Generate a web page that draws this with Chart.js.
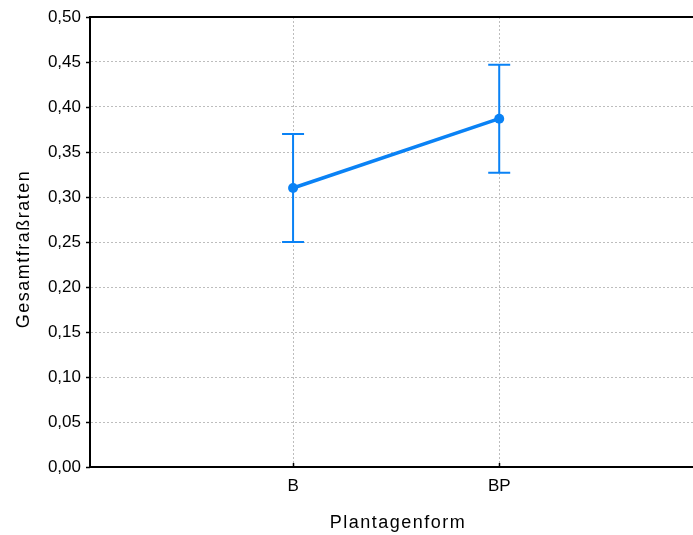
<!DOCTYPE html>
<html>
<head>
<meta charset="utf-8">
<script src="https://cdn.jsdelivr.net/npm/chart.js@4"></script>
<style>
  html, body { margin: 0; padding: 0; background: #ffffff; overflow: hidden; }
  #wrap { width: 693px; height: 535px; overflow: hidden; }
</style>
</head>
<body>
<div id="wrap"><canvas id="grafico" width="698" height="535"></canvas></div>
<script>
// ---- data ----
const categorias = ['B', 'BP'];
const medias = [0.31, 0.387];
const erros = [0.06, 0.06];
const yTicks = [0, 0.05, 0.10, 0.15, 0.20, 0.25, 0.30, 0.35, 0.40, 0.45, 0.50];
const tituloX = 'Plantagenform';
const tituloY = 'Gesamtfraßraten';

const azul = '#0a82f5';
const fonte = "'Liberation Sans', Arial, sans-serif";

// error bars, top border, black tick marks and spaced axis titles
const extras = {
  id: 'extras',
  afterDatasetsDraw(chart) {
    const { ctx, chartArea, scales } = chart;
    const x = scales.x, y = scales.y;
    ctx.save();
    // error bars
    ctx.strokeStyle = azul;
    ctx.lineWidth = 2;
    medias.forEach((m, i) => {
      const px = x.getPixelForValue(i + 1);
      const top = y.getPixelForValue(m + erros[i]);
      const bot = y.getPixelForValue(m - erros[i]);
      ctx.beginPath();
      ctx.moveTo(px, top); ctx.lineTo(px, bot);
      ctx.moveTo(px - 11, top); ctx.lineTo(px + 11, top);
      ctx.moveTo(px - 11, bot); ctx.lineTo(px + 11, bot);
      ctx.stroke();
    });
    // top border
    ctx.strokeStyle = '#000';
    ctx.lineWidth = 2;
    ctx.beginPath();
    ctx.moveTo(chartArea.left - 1, chartArea.top);
    ctx.lineTo(chart.width, chartArea.top);
    ctx.stroke();
    // tick marks
    ctx.lineWidth = 1.5;
    ctx.beginPath();
    yTicks.forEach(v => {
      const py = Math.round(y.getPixelForValue(v)) + 0.5;
      ctx.moveTo(chartArea.left - 4, py); ctx.lineTo(chartArea.left, py);
    });
    categorias.forEach((c, i) => {
      const px = Math.round(x.getPixelForValue(i + 1)) + 0.5;
      ctx.moveTo(px, chartArea.bottom); ctx.lineTo(px, chartArea.bottom - 4);
    });
    ctx.stroke();
    // axis titles
    ctx.fillStyle = '#000';
    ctx.font = '18px ' + fonte;
    ctx.letterSpacing = '1.5px';
    ctx.textAlign = 'center';
    ctx.textBaseline = 'alphabetic';
    ctx.fillText(tituloX, 398, 528);
    ctx.translate(29, 249);
    ctx.rotate(-Math.PI / 2);
    ctx.fillText(tituloY, 0, 0);
    ctx.restore();
  }
};

new Chart(document.getElementById('grafico'), {
  type: 'line',
  data: {
    datasets: [{
      data: medias.map((m, i) => ({ x: i + 1, y: m })),
      borderColor: azul,
      backgroundColor: azul,
      borderWidth: 3.5,
      pointRadius: 5,
      pointBackgroundColor: azul,
      pointBorderWidth: 0,
      tension: 0
    }]
  },
  options: {
    responsive: false,
    animation: false,
    layout: { padding: { top: 17, right: 0, left: 0, bottom: 0 } },
    plugins: { legend: { display: false }, tooltip: { enabled: false } },
    scales: {
      x: {
        type: 'linear',
        min: 0.015,
        max: 2.94,
        afterBuildTicks: s => { s.ticks = categorias.map((c, i) => ({ value: i + 1 })); },
        afterFit: s => { s.height = 68; s.paddingLeft = 0; s.paddingRight = 0; },
        ticks: {
          callback: v => categorias[v - 1] || '',
          color: '#000',
          font: { family: fonte, size: 17 },
          padding: 9,
          maxRotation: 0
        },
        grid: { color: '#bdbdbd', lineWidth: 1, drawTicks: false },
        border: { color: '#000', width: 2, dash: [2, 2] }
      },
      y: {
        min: 0,
        max: 0.5,
        afterBuildTicks: s => { s.ticks = yTicks.map(v => ({ value: v })); },
        afterFit: s => { s.width = 90; s.paddingTop = 0; s.paddingBottom = 0; },
        ticks: {
          callback: v => v.toFixed(2).replace('.', ','),
          color: '#000',
          font: { family: fonte, size: 17 },
          padding: 9
        },
        grid: { color: '#bdbdbd', lineWidth: 1, drawTicks: false },
        border: { color: '#000', width: 2, dash: [2, 2] }
      }
    }
  },
  plugins: [extras]
});
</script>
</body>
</html>
